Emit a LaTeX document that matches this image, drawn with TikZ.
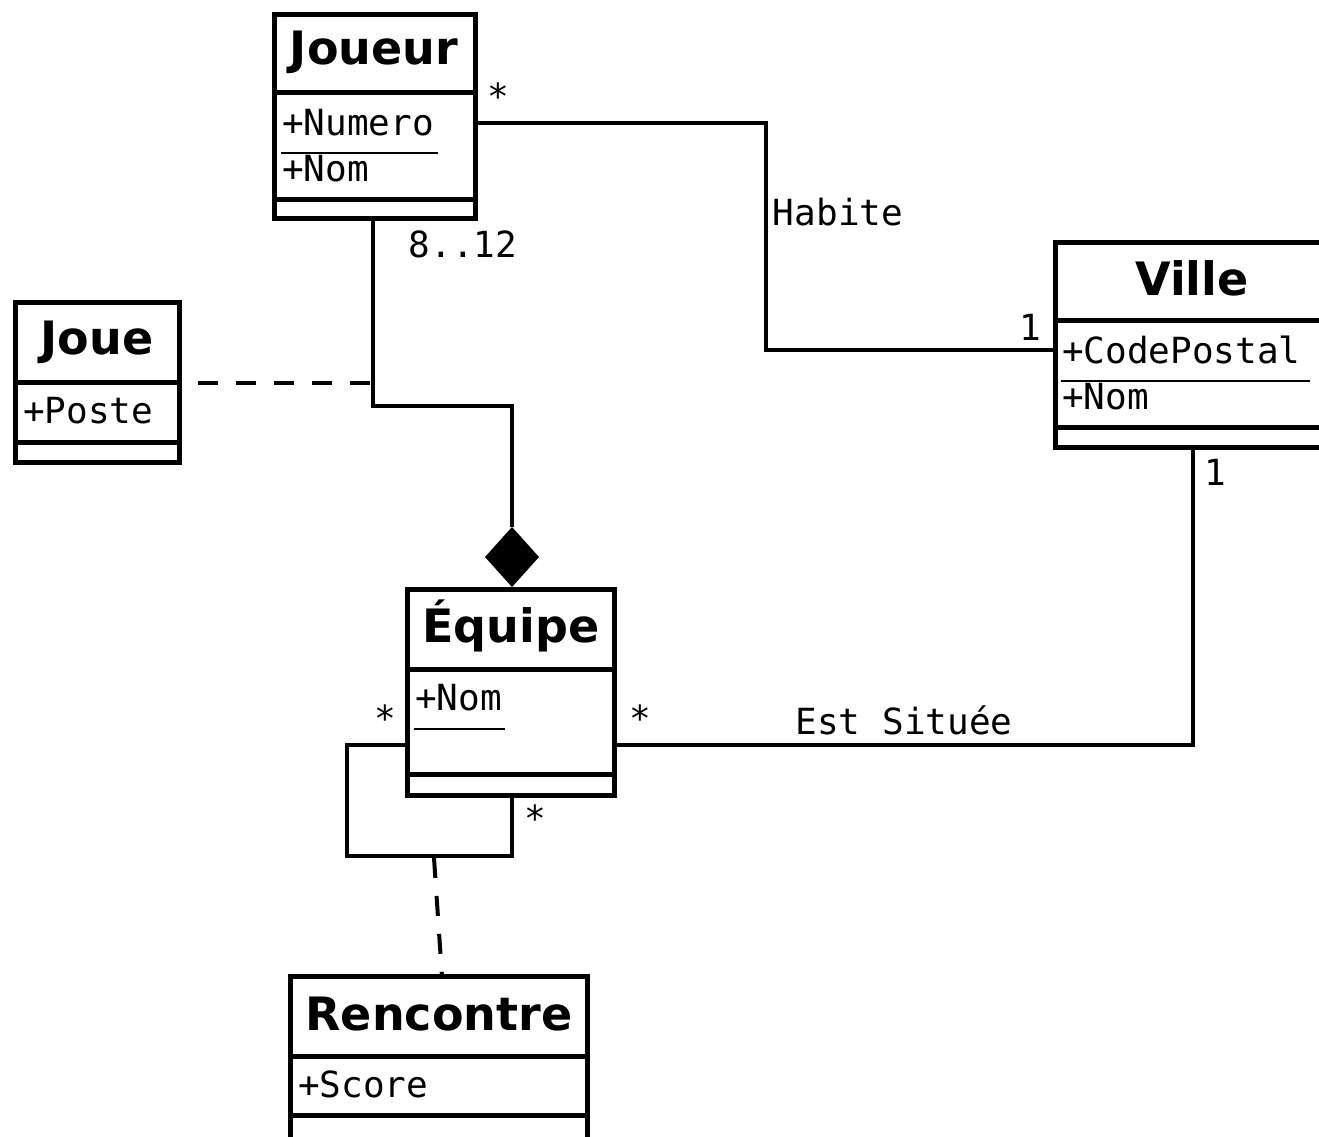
\documentclass[tikz,border=0pt]{standalone}
\usepackage{fontspec}
\setmainfont{DejaVu Sans}
\newfontfamily\monof{DejaVu Sans Mono}
\begin{document}
\begin{tikzpicture}[x=1pt,y=-1pt,
  classbox/.style={draw,line width=5pt,anchor=north west,inner sep=0pt,outer sep=0pt,minimum width=#1},
  sep/.style={line width=5pt},
  conn/.style={line width=4pt},
  ttl/.style={font=\fontsize{46}{50}\selectfont\bfseries,inner sep=0pt},
  attr/.style={font=\monof\fontsize{36}{40}\selectfont,inner sep=0pt,anchor=west},
  lbl/.style={font=\monof\fontsize{36}{40}\selectfont,inner sep=0pt},
  uline/.style={line width=2pt},
  dashedconn/.style={line width=4pt,dash pattern=on 20pt off 18pt}
]
\clip (0,0) rectangle (1319,1136);
\fill[white] (0,0) rectangle (1319,1136);

% Joueur
\node[classbox=201pt,minimum height=204pt] (joueur) at (274.5,14.5) {};
\draw[sep] (274.5,92) -- (475.5,92);
\draw[sep] (274.5,199) -- (475.5,199);
\node[ttl] (joueurT) at (374,52) {Joueur};
\node[attr] (joueurA1) at (282,123) {+Numero};
\node[attr] (joueurA2) at (282,169) {+Nom};
\draw[uline] (281,153) -- (438,153);

% Joue
\node[classbox=164pt,minimum height=160pt] (joue) at (15.5,302.5) {};
\draw[sep] (15.5,382) -- (179.5,382);
\draw[sep] (15.5,442) -- (179.5,442);
\node[ttl] (joueT) at (97,342) {Joue};
\node[attr] (joueA1) at (23,411) {+Poste};

% Ville
\node[classbox=290pt,minimum height=205pt] (ville) at (1055.5,242.5) {};
\draw[sep] (1055.5,320) -- (1345.5,320);
\draw[sep] (1055.5,427) -- (1345.5,427);
\node[ttl] (villeT) at (1192,278) {Ville};
\node[attr] (villeA1) at (1062,350) {+CodePostal};
\node[attr] (villeA2) at (1062,397) {+Nom};
\draw[uline] (1061,381) -- (1310,381);

% Equipe
\node[classbox=207pt,minimum height=206pt] (equipe) at (407.5,589.5) {};
\draw[sep] (407.5,669) -- (614.5,669);
\draw[sep] (407.5,774) -- (614.5,774);
\node[ttl] (equipeT) at (511,626) {Équipe};
\node[attr] (equipeA1) at (415,698) {+Nom};
\draw[uline] (414,729) -- (505,729);

% Rencontre
\node[classbox=297pt,minimum height=200pt] (rencontre) at (290.5,976.5) {};
\draw[sep] (290.5,1056) -- (587.5,1056);
\draw[sep] (290.5,1115) -- (587.5,1115);
\node[ttl] (rencontreT) at (439,1014) {Rencontre};
\node[attr] (rencontreA1) at (298,1084) {+Score};

% Habite
\coordinate (h1) at (766,123);
\coordinate (h2) at (766,350);
\draw[conn] (joueur.east |- h1) -- (h1) -- (h2) -- (ville.west |- h2);
\node[lbl] (habite) at (838,212) {Habite};
\node[lbl] (m1) at (498,96) {*};
\node[lbl] (m2) at (1030,327) {1};

% Composition
\coordinate (c1) at (373,406);
\coordinate (c2) at (512,406);
\coordinate (dtop) at (512,527);
\draw[conn] (joueur.south -| c1) -- (c1) -- (c2) -- (dtop);
\fill (512,527) -- (539,557) -- (512,587) -- (485,557) -- cycle;
\node[lbl] (m3) at (463,244) {8..12};

% Joue association class link
\coordinate (jd) at (373,383);
\draw[dashedconn] (joue.east |- jd) ++(18,0) -- (jd);

% Est Situee
\coordinate (e1) at (1193,745);
\draw[conn] (equipe.east |- e1) -- (e1) -- (ville.south -| e1);
\node[lbl] (estsituee) at (904,720) {Est Située};
\node[lbl] (m4) at (640,718) {*};
\node[lbl] (m5) at (1215,472) {1};

% Self association
\coordinate (s1) at (347,745);
\coordinate (s2) at (347,856);
\coordinate (s3) at (512,856);
\draw[conn] (equipe.west |- s1) -- (s1) -- (s2) -- (s3) -- (equipe.south -| s3);
\node[lbl] (m6) at (385,718) {*};
\node[lbl] (m7) at (535,818) {*};

% Rencontre link
\coordinate (r1) at (434,858);
\draw[dashedconn] (r1) -- (rencontre.north -| 442,0);
\end{tikzpicture}
\end{document}
